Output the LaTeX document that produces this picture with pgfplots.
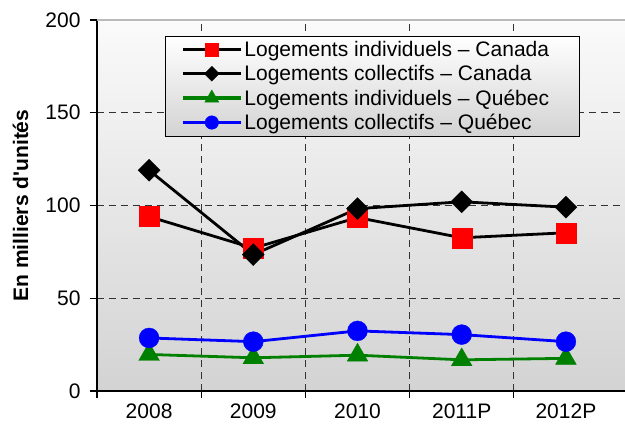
\documentclass[border=0pt]{standalone}
\usepackage{pgfplots}
\pgfplotsset{compat=1.18}
\usepackage{fontspec}
\setmainfont{Liberation Sans}

\definecolor{qgreen}{RGB}{0,128,0}
\definecolor{qblue}{RGB}{0,0,255}
\definecolor{cred}{RGB}{255,0,0}
\definecolor{bgtop}{RGB}{250,250,250}
\definecolor{bgbot}{RGB}{211,211,211}
\definecolor{gridc}{RGB}{50,50,50}

\newcommand{\chartfont}{\fontsize{21}{24}\selectfont}

\begin{document}
\begin{tikzpicture}
\begin{axis}[
  scale only axis,
  width=528pt, height=371pt,
  xmin=-0.5, xmax=4.567,
  ymin=0, ymax=200,
  axis x line*=bottom, axis y line*=left,
  axis line style={line width=1.2pt},
  xtick={0,1,2,3,4},
  xticklabels={2008,2009,2010,2011P,2012P},
  minor xtick={-0.5,0.5,1.5,2.5,3.5},
  ytick={0,50,100,150,200},
  tick align=outside,
  major tick length=7pt, minor tick length=7pt,
  major x tick style={draw=none},
  minor x tick style={line width=1.2pt, draw=black},
  ytick style={line width=1.2pt, draw=black},
  xminorgrids, ymajorgrids,
  grid style={dashed, gridc, line width=1pt, dash pattern=on 7pt off 5pt},
  minor grid style={dashed, gridc, line width=1pt, dash pattern=on 7pt off 5pt},
  tick label style={font=\chartfont},
  yticklabel style={xshift=-6pt},
  xticklabel style={yshift=-2pt},
  /pgf/number format/assume math mode=true,
  ylabel={\bfseries En milliers d\textquotesingle unités},
  ylabel style={font=\chartfont, at={(axis description cs:-0.145,0.5)}, anchor=center},
  axis background/.style={top color=bgtop, bottom color=bgbot},
  legend style={
    at={(rel axis cs:0.1288,0.957)}, anchor=north west,
    draw=black,
    top color=white, bottom color=bgbot,
    font=\chartfont, inner xsep=16pt, inner ysep=3pt,
    row sep=3.5pt,
  },
  legend cell align=left,
  legend image post style={line width=3.2pt},
  legend image code/.code={%
    \draw[mark repeat=2, mark phase=2, every mark/.append style={scale=0.68}]
      plot coordinates {(0pt,0pt) (29pt,0pt) (58pt,0pt)};},
]
\addplot[black, line width=2.8pt, mark=square*, mark size=10pt,
  mark options={solid, line width=0.3pt, draw=cred, fill=cred}]
  coordinates {(0,94.0) (1,77.0) (2,93.5) (3,82.6) (4,85.3)};
\addlegendentry{Logements individuels -- Canada\hspace*{12pt}}
\addplot[black, line width=2.8pt, mark=square*, mark size=7.8pt,
  mark options={solid, line width=0.3pt, draw=black, fill=black, rotate=45}]
  coordinates {(0,119.0) (1,73.5) (2,98.3) (3,102.0) (4,99.1)};
\addlegendentry{Logements collectifs -- Canada}
\addplot[qgreen, line width=2.8pt, mark=triangle*, mark size=12pt,
  mark options={solid, line width=0.3pt, draw=qgreen, fill=qgreen}]
  coordinates {(0,19.7) (1,17.9) (2,19.3) (3,16.8) (4,17.6)};
\addlegendentry{Logements individuels -- Québec}
\addplot[qblue, line width=2.8pt, mark=*, mark size=10pt,
  mark options={solid, line width=0.3pt, draw=qblue, fill=qblue}]
  coordinates {(0,28.6) (1,26.6) (2,32.4) (3,30.4) (4,26.6)};
\addlegendentry{Logements collectifs -- Québec}
\draw[gray!55, line width=1.2pt] (rel axis cs:0,1) -- (rel axis cs:1,1);
\end{axis}
\pgfresetboundingbox
\path (current axis.south west) ++(-97pt,-41pt) rectangle ++(625pt,432pt);
\end{tikzpicture}
\end{document}
